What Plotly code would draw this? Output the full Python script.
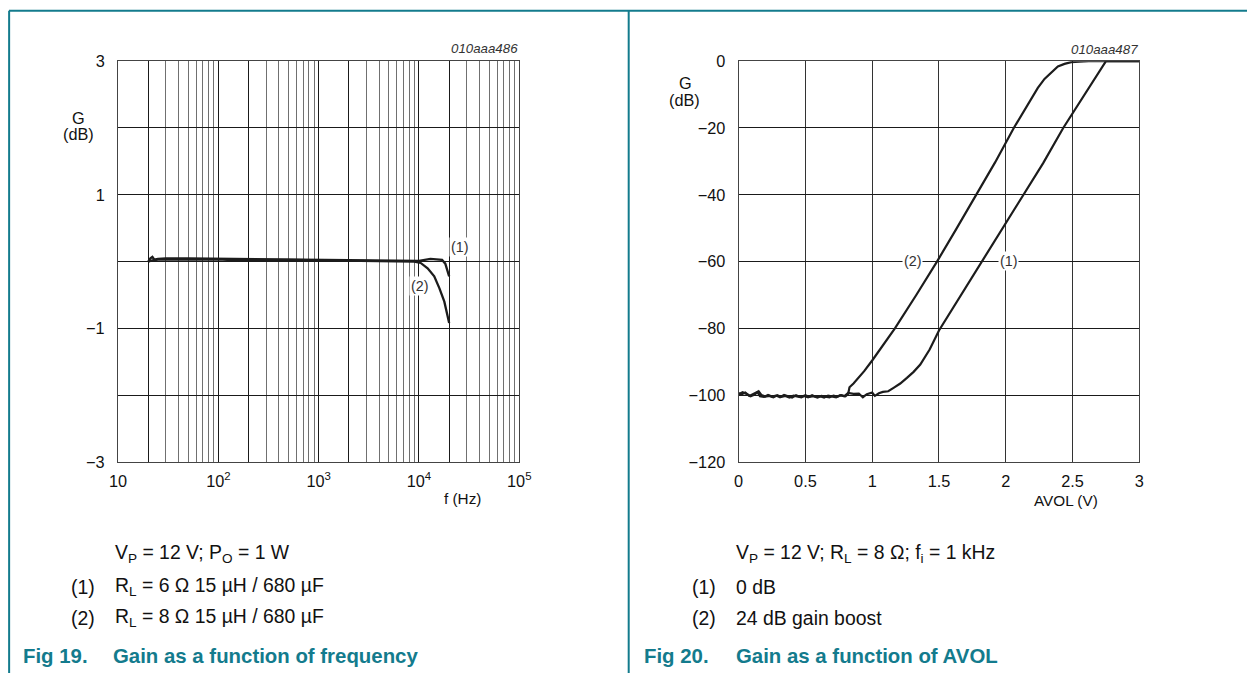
import plotly.graph_objects as go

# Target layout is given in final page pixels; the page body keeps an 8 px
# margin and the visible area is rendered at a slightly reduced scale.
PAD = 8
SX, SY = 0.984, 0.974
W, H = 1259, 683
FS = 1 / ((SX + SY) / 2)
FONT = "Liberation Sans, Arial, sans-serif"
TEAL = "#137b8d"
INK = "#1c1c1c"

# ---- Fig 19: gain vs frequency -------------------------------------------
freq_1 = [20, 21, 22, 23, 25, 30, 50, 100, 200, 500, 1000, 2000, 5000,
          8000, 10000, 13000, 15000, 17000, 18300, 19200, 20000]
gain_1 = [0.00, 0.05, 0.07, 0.03, 0.04, 0.05, 0.05, 0.045, 0.04, 0.04, 0.035,
          0.03, 0.02, 0.01, 0.01, 0.04, 0.035, 0.025, -0.03, -0.12, -0.22]

freq_2 = [20, 22, 25, 30, 50, 100, 150, 200, 500, 1000, 2000, 5000, 8000,
          9000, 10400, 12200, 14200, 16000, 17900, 19000, 20000]
gain_2 = [0.00, 0.02, 0.03, 0.03, 0.035, 0.035, 0.02, 0.025, 0.025, 0.02,
          0.015, 0.01, 0.0, 0.0, -0.02, -0.10, -0.22, -0.40, -0.60, -0.75, -0.92]

f_ticks = [10, 100, 1000, 10000, 100000]
f_ticktext = ["10", "10<sup>2</sup>", "10<sup>3</sup>", "10<sup>4</sup>", "10<sup>5</sup>"]
f_twos = [20, 200, 2000, 20000]
f_minor = [m * d for d in (10, 100, 1000, 10000) for m in (3, 4, 5, 6, 7, 8, 9)]
g_ticks = [-3, -2, -1, 0, 1, 2, 3]
g_ticktext = ["\u22123", "", "\u22121", "", "1", "", "3"]

# ---- Fig 20: gain vs AVOL ------------------------------------------------
avol_1 = [0.00, 0.02, 0.05, 0.08, 0.11, 0.14, 0.16, 0.19, 0.22, 0.25, 0.28,
          0.31, 0.34, 0.37, 0.40, 0.43, 0.46, 0.49, 0.52, 0.55, 0.58, 0.61,
          0.64, 0.67, 0.70, 0.73, 0.76, 0.79, 0.82, 0.86, 0.90, 0.93, 0.96,
          1.00, 1.02, 1.05, 1.08, 1.12, 1.16, 1.21, 1.26, 1.31, 1.36, 1.43,
          1.50, 1.66, 1.82, 2.00, 2.13, 2.28, 2.43, 2.59, 2.75, 2.85, 3.00]
gain_v1 = [-99.4, -99.8, -99.2, -100.2, -99.6, -99.0, -100.3, -100.5, -99.9,
           -100.4, -100.1, -100.6, -99.9, -100.4, -100.7, -100.0, -100.5,
           -100.2, -100.6, -100.0, -100.5, -100.3, -100.7, -100.1, -100.4,
           -100.6, -100.0, -100.3, -99.3, -99.6, -99.5, -100.6, -99.7, -99.2,
           -100.2, -99.4, -99.0, -98.8, -97.8, -96.5, -94.8, -93.0, -90.8,
           -86.3, -80.6, -70.3, -60.0, -48.5, -40.0, -30.5, -20.0, -10.2,
           0.0, 0.0, 0.0]

avol_2 = [0.00, 0.03, 0.06, 0.09, 0.12, 0.15, 0.17, 0.20, 0.23, 0.26, 0.29,
          0.32, 0.35, 0.38, 0.41, 0.44, 0.47, 0.50, 0.53, 0.56, 0.59, 0.62,
          0.65, 0.68, 0.71, 0.74, 0.77, 0.80, 0.82, 0.83, 0.86, 0.90, 0.94,
          1.00, 1.08, 1.17, 1.33, 1.485, 1.63, 1.78, 1.92, 2.06, 2.18, 2.24,
          2.29, 2.34, 2.39, 2.44, 2.49, 2.55, 2.62, 2.80, 3.00]
gain_v2 = [-99.7, -99.1, -99.6, -100.3, -99.8, -98.8, -99.9, -100.4, -100.2,
           -100.6, -100.0, -100.5, -100.2, -100.7, -100.1, -100.4, -100.6,
           -100.0, -100.5, -100.3, -100.7, -100.2, -100.5, -100.6, -100.1,
           -100.4, -100.0, -100.3, -99.6, -97.6, -96.5, -94.6, -92.8, -89.6,
           -85.0, -80.0, -70.0, -60.0, -50.2, -40.0, -30.3, -20.0, -12.0,
           -8.0, -5.3, -3.5, -1.6, -0.8, -0.3, -0.15, 0.0, 0.0, 0.0]

v_ticks = [0, 0.5, 1, 1.5, 2, 2.5, 3]
v_ticktext = ["0", "0.5", "1", "1.5", "2", "2.5", "3"]
gv_ticks = [-120, -100, -80, -60, -40, -20, 0]
gv_ticktext = ["\u2212120", "\u2212100", "\u221280", "\u221260", "\u221240", "\u221220", "0"]


def px(x):
    """Final pixel column -> paper fraction."""
    return min(max((x / SX - PAD) / W, 0), 1)


def py(y):
    """Final pixel row -> paper fraction."""
    return min(max(1 - (y / SY - PAD) / H, 0), 1)


def fs(size):
    return round(size * FS, 1)


fig = go.Figure()
line = dict(color=INK, width=2.3)
fig.add_trace(go.Scatter(x=freq_1, y=gain_1, mode="lines", line=line, xaxis="x", yaxis="y"))
fig.add_trace(go.Scatter(x=freq_2, y=gain_2, mode="lines", line=line, xaxis="x", yaxis="y"))
fig.add_trace(go.Scatter(x=avol_1, y=gain_v1, mode="lines", line=dict(color=INK, width=2.2), xaxis="x2", yaxis="y2"))
fig.add_trace(go.Scatter(x=avol_2, y=gain_v2, mode="lines", line=dict(color=INK, width=2.2), xaxis="x2", yaxis="y2"))

tickfont = dict(family=FONT, size=fs(16), color="#111")
frame = dict(showline=True, linecolor="#444", linewidth=1.2, mirror=True,
             zeroline=False, ticks="", tickfont=tickfont)

fig.update_layout(
    width=W, height=H, margin=dict(l=0, r=0, t=0, b=0),
    paper_bgcolor="white", plot_bgcolor="white", showlegend=False,
    font=dict(family=FONT, color="#111"),
    xaxis=dict(type="log", range=[1, 5], domain=[px(117), px(518.5)], anchor="y",
               tickmode="array", tickvals=f_ticks + f_twos,
               ticktext=f_ticktext + [""] * len(f_twos),
               showgrid=True, gridcolor="#1a1a1a", gridwidth=1,
               minor=dict(tickmode="array", tickvals=f_minor, showgrid=True,
                          gridcolor="#707070", gridwidth=1.3, ticks=""),
               ticklabelstandoff=4, **frame),
    yaxis=dict(range=[-3, 3], domain=[py(461), py(60)], anchor="x",
               tickmode="array", tickvals=g_ticks, ticktext=g_ticktext,
               showgrid=True, gridcolor="#1a1a1a", gridwidth=1,
               ticklabelstandoff=9, **frame),
    xaxis2=dict(range=[0, 3], domain=[px(738), px(1139)], anchor="y2",
                tickmode="array", tickvals=v_ticks, ticktext=v_ticktext,
                showgrid=True, gridcolor="#333", gridwidth=1.2,
                ticklabelstandoff=4, **frame),
    yaxis2=dict(range=[-120, 0], domain=[py(461), py(60)], anchor="x2",
                tickmode="array", tickvals=gv_ticks, ticktext=gv_ticktext,
                showgrid=True, gridcolor="#1a1a1a", gridwidth=1,
                ticklabelstandoff=9, **frame),
)

# panel frame lines
for shp in [dict(x0=px(7), x1=1, y0=py(9.5), y1=py(9.5)),
            dict(x0=px(8), x1=px(8), y0=py(9.5), y1=0),
            dict(x0=px(628), x1=px(628), y0=py(9.5), y1=0)]:
    fig.add_shape(type="line", xref="paper", yref="paper",
                  line=dict(color=TEAL, width=2), **shp)


def note(text, x, y, size=15, xanchor="center", color="#111", bg=None, **kw):
    fig.add_annotation(text=text, x=px(x), y=py(y), xref="paper", yref="paper",
                       xanchor=xanchor, yanchor="middle", showarrow=False,
                       font=dict(family=FONT, size=fs(size), color=color),
                       bgcolor=bg, borderpad=1, **kw)


# axis titles and drawing codes
note("G", 77, 117, size=16)
note("(dB)", 77, 133, size=16)
note("G", 685, 82, size=16)
note("(dB)", 684, 99, size=16)
note("f (Hz)", 462, 497, size=15)
note("AVOL (V)", 1066, 499, size=15)
note("<i>010aaa486</i>", 519, 47, size=13, xanchor="right", color="#333")
note("<i>010aaa487</i>", 1140, 48, size=13, xanchor="right", color="#333")

# curve labels
note("(1)", 458.6, 245.5, size=14, color="#333", bg="white")
note("(2)", 419, 285, size=14, color="#333", bg="white")
note("(2)", 912, 260, size=14, color="#333", bg="white")
note("(1)", 1008, 260, size=14, color="#333", bg="white")

# captions
CAP = 19
note("V<sub>P</sub> = 12 V; P<sub>O</sub> = 1 W", 112, 552, size=CAP, xanchor="left")
note("(1)", 68, 586, size=CAP, xanchor="left")
note("R<sub>L</sub> = 6 \u03a9 15 \u00b5H / 680 \u00b5F", 112, 586, size=CAP, xanchor="left")
note("(2)", 68, 617, size=CAP, xanchor="left")
note("R<sub>L</sub> = 8 \u03a9 15 \u00b5H / 680 \u00b5F", 112, 617, size=CAP, xanchor="left")
note("<b>Fig 19.</b>", 20, 655, size=20, xanchor="left", color=TEAL)
note("<b>Gain as a function of frequency</b>", 110, 655, size=20, xanchor="left", color=TEAL)

note("V<sub>P</sub> = 12 V; R<sub>L</sub> = 8 \u03a9; f<sub>i</sub> = 1 kHz", 733, 552, size=CAP, xanchor="left")
note("(1)", 689, 586, size=CAP, xanchor="left")
note("0 dB", 733, 586, size=CAP, xanchor="left")
note("(2)", 689, 617, size=CAP, xanchor="left")
note("24 dB gain boost", 733, 617, size=CAP, xanchor="left")
note("<b>Fig 20.</b>", 641, 655, size=20, xanchor="left", color=TEAL)
note("<b>Gain as a function of AVOL</b>", 733, 655, size=20, xanchor="left", color=TEAL)

fig.write_html("out.html")
